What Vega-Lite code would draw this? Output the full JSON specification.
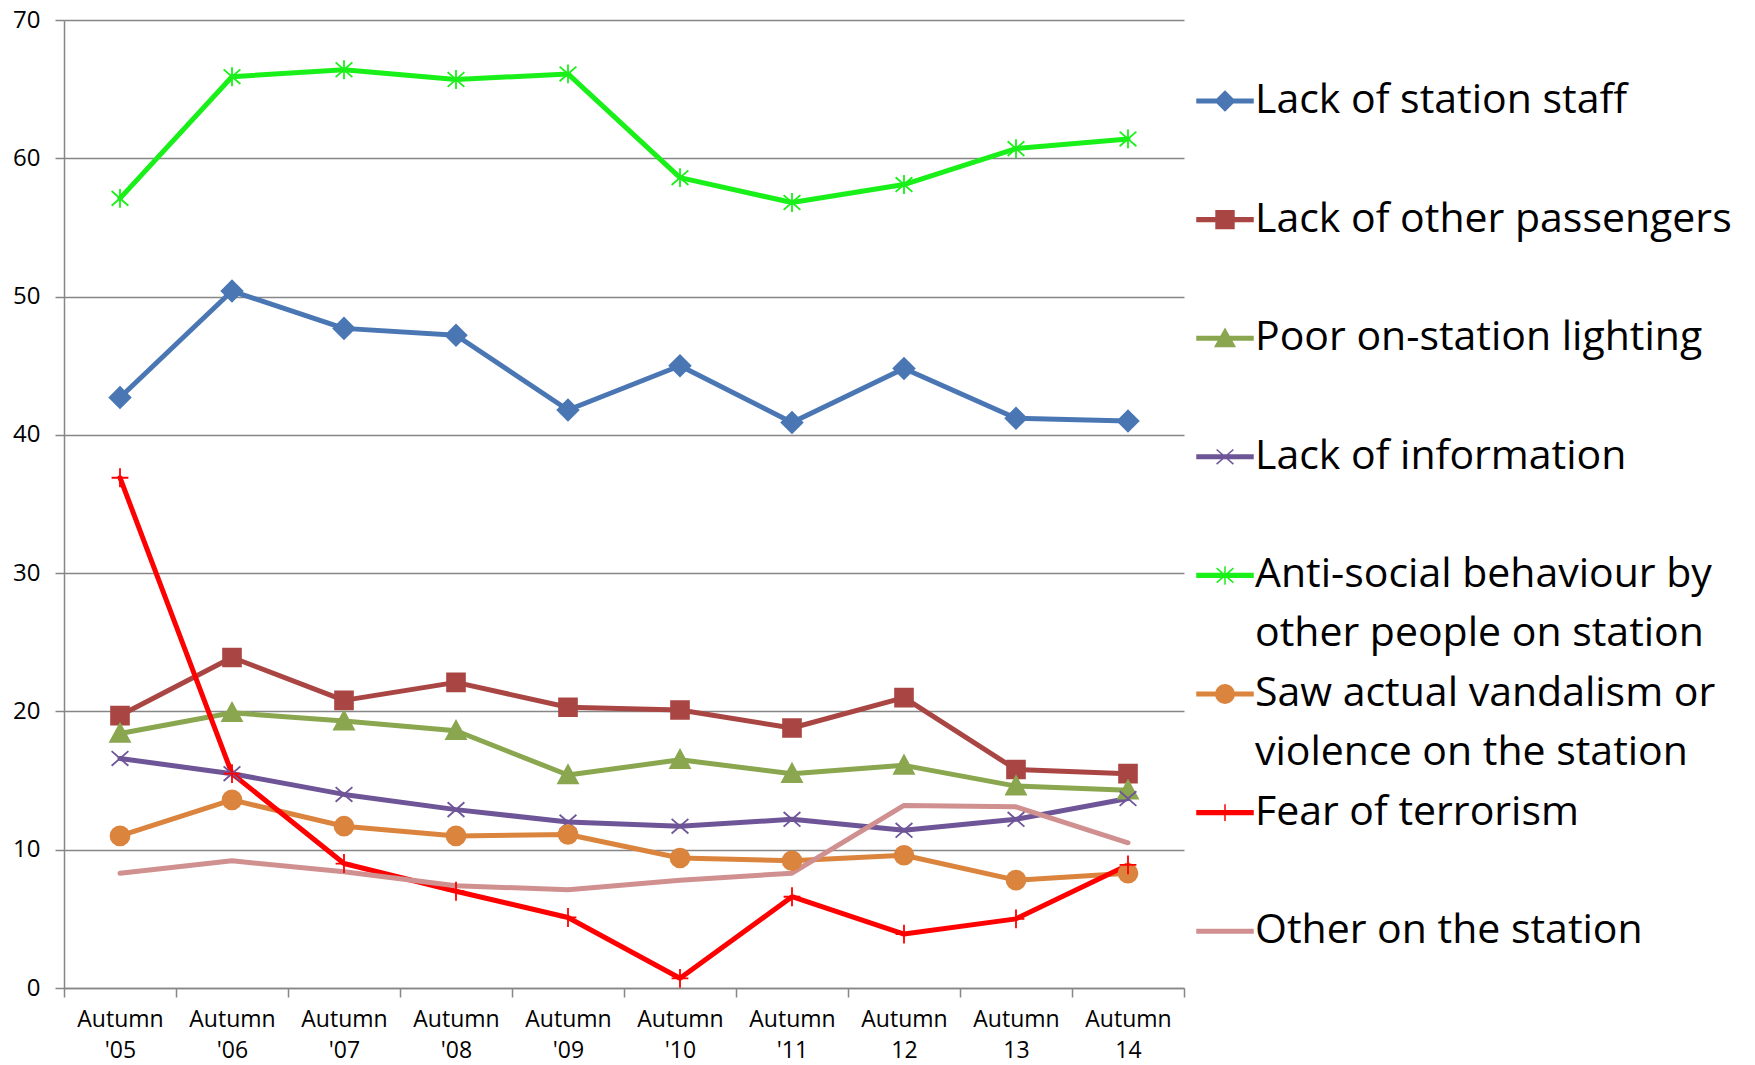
{
  "$schema": "https://vega.github.io/schema/vega-lite/v6.json",
  "width": 1120,
  "height": 968,
  "autosize": {"type": "none"},
  "padding": {"left": 64, "top": 20, "right": 571, "bottom": 77},
  "background": "white",
  "config": {"view": {"stroke": null}, "font": "Open Sans"},
  "data": {
    "values": [
      {"period": "Autumn '05", "series": "Lack of station staff", "value": 42.7},
      {"period": "Autumn '06", "series": "Lack of station staff", "value": 50.4},
      {"period": "Autumn '07", "series": "Lack of station staff", "value": 47.7},
      {"period": "Autumn '08", "series": "Lack of station staff", "value": 47.2},
      {"period": "Autumn '09", "series": "Lack of station staff", "value": 41.8},
      {"period": "Autumn '10", "series": "Lack of station staff", "value": 45.0},
      {"period": "Autumn '11", "series": "Lack of station staff", "value": 40.9},
      {"period": "Autumn 12", "series": "Lack of station staff", "value": 44.8},
      {"period": "Autumn 13", "series": "Lack of station staff", "value": 41.2},
      {"period": "Autumn 14", "series": "Lack of station staff", "value": 41.0},

      {"period": "Autumn '05", "series": "Lack of other passengers", "value": 19.7},
      {"period": "Autumn '06", "series": "Lack of other passengers", "value": 23.9},
      {"period": "Autumn '07", "series": "Lack of other passengers", "value": 20.8},
      {"period": "Autumn '08", "series": "Lack of other passengers", "value": 22.1},
      {"period": "Autumn '09", "series": "Lack of other passengers", "value": 20.3},
      {"period": "Autumn '10", "series": "Lack of other passengers", "value": 20.1},
      {"period": "Autumn '11", "series": "Lack of other passengers", "value": 18.8},
      {"period": "Autumn 12", "series": "Lack of other passengers", "value": 21.0},
      {"period": "Autumn 13", "series": "Lack of other passengers", "value": 15.8},
      {"period": "Autumn 14", "series": "Lack of other passengers", "value": 15.5},

      {"period": "Autumn '05", "series": "Poor on-station lighting", "value": 18.4},
      {"period": "Autumn '06", "series": "Poor on-station lighting", "value": 19.9},
      {"period": "Autumn '07", "series": "Poor on-station lighting", "value": 19.3},
      {"period": "Autumn '08", "series": "Poor on-station lighting", "value": 18.6},
      {"period": "Autumn '09", "series": "Poor on-station lighting", "value": 15.4},
      {"period": "Autumn '10", "series": "Poor on-station lighting", "value": 16.5},
      {"period": "Autumn '11", "series": "Poor on-station lighting", "value": 15.5},
      {"period": "Autumn 12", "series": "Poor on-station lighting", "value": 16.1},
      {"period": "Autumn 13", "series": "Poor on-station lighting", "value": 14.6},
      {"period": "Autumn 14", "series": "Poor on-station lighting", "value": 14.3},

      {"period": "Autumn '05", "series": "Lack of information", "value": 16.6},
      {"period": "Autumn '06", "series": "Lack of information", "value": 15.5},
      {"period": "Autumn '07", "series": "Lack of information", "value": 14.0},
      {"period": "Autumn '08", "series": "Lack of information", "value": 12.9},
      {"period": "Autumn '09", "series": "Lack of information", "value": 12.0},
      {"period": "Autumn '10", "series": "Lack of information", "value": 11.7},
      {"period": "Autumn '11", "series": "Lack of information", "value": 12.2},
      {"period": "Autumn 12", "series": "Lack of information", "value": 11.4},
      {"period": "Autumn 13", "series": "Lack of information", "value": 12.2},
      {"period": "Autumn 14", "series": "Lack of information", "value": 13.7},

      {"period": "Autumn '05", "series": "Anti-social behaviour by other people on station", "value": 57.1},
      {"period": "Autumn '06", "series": "Anti-social behaviour by other people on station", "value": 65.9},
      {"period": "Autumn '07", "series": "Anti-social behaviour by other people on station", "value": 66.4},
      {"period": "Autumn '08", "series": "Anti-social behaviour by other people on station", "value": 65.7},
      {"period": "Autumn '09", "series": "Anti-social behaviour by other people on station", "value": 66.1},
      {"period": "Autumn '10", "series": "Anti-social behaviour by other people on station", "value": 58.6},
      {"period": "Autumn '11", "series": "Anti-social behaviour by other people on station", "value": 56.8},
      {"period": "Autumn 12", "series": "Anti-social behaviour by other people on station", "value": 58.1},
      {"period": "Autumn 13", "series": "Anti-social behaviour by other people on station", "value": 60.7},
      {"period": "Autumn 14", "series": "Anti-social behaviour by other people on station", "value": 61.4},

      {"period": "Autumn '05", "series": "Saw actual vandalism or violence on the station", "value": 11.0},
      {"period": "Autumn '06", "series": "Saw actual vandalism or violence on the station", "value": 13.6},
      {"period": "Autumn '07", "series": "Saw actual vandalism or violence on the station", "value": 11.7},
      {"period": "Autumn '08", "series": "Saw actual vandalism or violence on the station", "value": 11.0},
      {"period": "Autumn '09", "series": "Saw actual vandalism or violence on the station", "value": 11.1},
      {"period": "Autumn '10", "series": "Saw actual vandalism or violence on the station", "value": 9.4},
      {"period": "Autumn '11", "series": "Saw actual vandalism or violence on the station", "value": 9.2},
      {"period": "Autumn 12", "series": "Saw actual vandalism or violence on the station", "value": 9.6},
      {"period": "Autumn 13", "series": "Saw actual vandalism or violence on the station", "value": 7.8},
      {"period": "Autumn 14", "series": "Saw actual vandalism or violence on the station", "value": 8.3},

      {"period": "Autumn '05", "series": "Fear of terrorism", "value": 36.9},
      {"period": "Autumn '06", "series": "Fear of terrorism", "value": 15.5},
      {"period": "Autumn '07", "series": "Fear of terrorism", "value": 9.0},
      {"period": "Autumn '08", "series": "Fear of terrorism", "value": 7.0},
      {"period": "Autumn '09", "series": "Fear of terrorism", "value": 5.1},
      {"period": "Autumn '10", "series": "Fear of terrorism", "value": 0.7},
      {"period": "Autumn '11", "series": "Fear of terrorism", "value": 6.6},
      {"period": "Autumn 12", "series": "Fear of terrorism", "value": 3.9},
      {"period": "Autumn 13", "series": "Fear of terrorism", "value": 5.0},
      {"period": "Autumn 14", "series": "Fear of terrorism", "value": 8.9},

      {"period": "Autumn '05", "series": "Other on the station", "value": 8.3},
      {"period": "Autumn '06", "series": "Other on the station", "value": 9.2},
      {"period": "Autumn '07", "series": "Other on the station", "value": 8.4},
      {"period": "Autumn '08", "series": "Other on the station", "value": 7.4},
      {"period": "Autumn '09", "series": "Other on the station", "value": 7.1},
      {"period": "Autumn '10", "series": "Other on the station", "value": 7.8},
      {"period": "Autumn '11", "series": "Other on the station", "value": 8.3},
      {"period": "Autumn 12", "series": "Other on the station", "value": 13.2},
      {"period": "Autumn 13", "series": "Other on the station", "value": 13.1},
      {"period": "Autumn 14", "series": "Other on the station", "value": 10.5}
    ]
  },
  "encoding": {
    "x": {
      "field": "period",
      "type": "ordinal",
      "sort": null,
      "bandPosition": 0.5,
      "scale": {"type": "band", "paddingInner": 0, "paddingOuter": 0},
      "axis": {
        "title": null,
        "grid": false,
        "tickBand": "extent",
        "tickSize": 9,
        "tickWidth": 1.5,
        "tickColor": "#868686",
        "domainColor": "#868686",
        "domainWidth": 1.5,
        "labelAngle": 0,
        "labelFont": "Open Sans",
        "labelFontSize": 23,
        "labelColor": "#000000",
        "labelLineHeight": 31,
        "labelPadding": 11,
        "labelExpr": "split(datum.label, ' ')"
      }
    },
    "y": {
      "field": "value",
      "type": "quantitative",
      "scale": {"domain": [0, 70], "nice": false},
      "axis": {
        "title": null,
        "values": [0, 10, 20, 30, 40, 50, 60, 70],
        "grid": true,
        "gridColor": "#868686",
        "gridWidth": 1.5,
        "domainColor": "#868686",
        "domainWidth": 1.5,
        "tickColor": "#868686",
        "tickWidth": 1.5,
        "tickSize": 9,
        "labelFont": "Open Sans",
        "labelFontSize": 24,
        "labelColor": "#000000",
        "labelPadding": 15
      }
    }
  },
  "layer": [
    {
      "mark": {"type": "line", "strokeCap": "round", "strokeJoin": "round"},
      "encoding": {
        "color": {
          "field": "series",
          "type": "nominal",
          "scale": {
            "domain": ["Lack of station staff", "Lack of other passengers", "Poor on-station lighting", "Lack of information", "Anti-social behaviour by other people on station", "Saw actual vandalism or violence on the station", "Fear of terrorism", "Other on the station"],
            "range": ["#4A77B4", "#A94643", "#8AA64F", "#6E5597", "#19F019", "#DB843D", "#FF0000", "#D09090"]
          },
          "legend": null
        },
        "strokeWidth": {
          "field": "series",
          "type": "nominal",
          "scale": {
            "domain": ["Lack of station staff", "Lack of other passengers", "Poor on-station lighting", "Lack of information", "Anti-social behaviour by other people on station", "Saw actual vandalism or violence on the station", "Fear of terrorism", "Other on the station"],
            "range": [5, 5, 5, 5, 5, 5, 6.5, 5]
          },
          "legend": null
        }
      }
    },
    {
      "mark": {"type": "point", "filled": true, "size": 440, "strokeWidth": 1.8, "opacity": 1},
      "encoding": {
        "fill": {
          "field": "series",
          "type": "nominal",
          "scale": {
            "domain": ["Lack of station staff", "Lack of other passengers", "Poor on-station lighting", "Lack of information", "Anti-social behaviour by other people on station", "Saw actual vandalism or violence on the station", "Fear of terrorism", "Other on the station"],
            "range": ["#4A77B4", "#A94643", "#8AA64F", "#6E5597", "#19F019", "#DB843D", "#FF0000", "#D09090"]
          },
          "legend": null
        },
        "stroke": {
          "field": "series",
          "type": "nominal",
          "scale": {
            "domain": ["Lack of station staff", "Lack of other passengers", "Poor on-station lighting", "Lack of information", "Anti-social behaviour by other people on station", "Saw actual vandalism or violence on the station", "Fear of terrorism", "Other on the station"],
            "range": ["#4A77B4", "#A94643", "#8AA64F", "#6E5597", "#19F019", "#DB843D", "#FF0000", "#D09090"]
          },
          "legend": null
        },
        "shape": {
          "field": "series",
          "type": "nominal",
          "scale": {
            "domain": ["Lack of station staff", "Lack of other passengers", "Poor on-station lighting", "Lack of information", "Anti-social behaviour by other people on station", "Saw actual vandalism or violence on the station", "Fear of terrorism", "Other on the station"],
            "range": [
              "M-1,0L0,-1L1,0L0,1Z",
              "M-0.85,-0.85H0.85V0.85H-0.85Z",
              "M-0.95,0.8L0,-0.95L0.95,0.8Z",
              "M-0.8,-0.7L0.8,0.7M-0.8,0.7L0.8,-0.7",
              "M-0.8,-0.7L0.8,0.7M-0.8,0.7L0.8,-0.7M0,-0.9V0.9",
              "M-0.9,0A0.9,0.9 0 1,1 0.9,0A0.9,0.9 0 1,1 -0.9,0Z",
              "M-0.8,0H0.8M0,-0.9V0.9",
              "M0,0"
            ]
          },
          "legend": null
        }
      }
    },
    {
      "mark": {"type": "point", "filled": true, "opacity": 0},
      "encoding": {
        "fill": {
          "field": "series",
          "type": "nominal",
          "scale": {
            "domain": ["Lack of station staff", "Lack of other passengers", "Poor on-station lighting", "Lack of information", "Anti-social behaviour by other people on station", "Saw actual vandalism or violence on the station", "Fear of terrorism", "Other on the station"],
            "range": ["#4A77B4", "#A94643", "#8AA64F", "#6E5597", "#19F019", "#DB843D", "#FF0000", "#D09090"]
          },
          "legend": {
            "title": null, "orient": "none", "direction": "vertical", "legendX": 1132, "legendY": 52, "padding": 0,
            "gridAlign": "all", "rowPadding": 10.6, "symbolSize": 3136, "symbolStrokeWidth": 1.5, "labelOffset": 1,
            "labelFont": "Open Sans", "labelFontSize": 41, "labelColor": "#000000", "labelLimit": 700, "labelBaseline": "middle",
            "labelExpr": "datum.label == 'Anti-social behaviour by other people on station' ? ['Anti-social behaviour by', 'other people on station'] : datum.label == 'Saw actual vandalism or violence on the station' ? ['Saw actual vandalism or', 'violence on the station'] : datum.label",
            "encode": {"labels": {"update": {"lineHeight": {"value": 59}}}}
          }
        },
        "stroke": {
          "field": "series",
          "type": "nominal",
          "scale": {
            "domain": ["Lack of station staff", "Lack of other passengers", "Poor on-station lighting", "Lack of information", "Anti-social behaviour by other people on station", "Saw actual vandalism or violence on the station", "Fear of terrorism", "Other on the station"],
            "range": ["#4A77B4", "#A94643", "#8AA64F", "#6E5597", "#19F019", "#DB843D", "#FF0000", "#D09090"]
          },
          "legend": {
            "title": null, "orient": "none", "direction": "vertical", "legendX": 1132, "legendY": 52, "padding": 0,
            "gridAlign": "all", "rowPadding": 10.6, "symbolSize": 3136, "symbolStrokeWidth": 1.5, "labelOffset": 1,
            "labelFont": "Open Sans", "labelFontSize": 41, "labelColor": "#000000", "labelLimit": 700, "labelBaseline": "middle",
            "labelExpr": "datum.label == 'Anti-social behaviour by other people on station' ? ['Anti-social behaviour by', 'other people on station'] : datum.label == 'Saw actual vandalism or violence on the station' ? ['Saw actual vandalism or', 'violence on the station'] : datum.label",
            "encode": {"labels": {"update": {"lineHeight": {"value": 59}}}}
          }
        },
        "shape": {
          "field": "series",
          "type": "nominal",
          "scale": {
            "domain": ["Lack of station staff", "Lack of other passengers", "Poor on-station lighting", "Lack of information", "Anti-social behaviour by other people on station", "Saw actual vandalism or violence on the station", "Fear of terrorism", "Other on the station"],
            "range": [
              "M-1,-0.065H1V0.065H-1ZM-0.35,0L0,-0.35L0.35,0L0,0.35Z",
              "M-1,-0.065H1V0.065H-1ZM-0.32,-0.32H0.32V0.32H-0.32Z",
              "M-1,-0.065H1V0.065H-1ZM-0.35,0.3L0,-0.33L0.35,0.3Z",
              "M-1,-0.065H1V0.065H-1ZM-0.3,-0.26L0.3,0.26M-0.3,0.26L0.3,-0.26",
              "M-1,-0.065H1V0.065H-1ZM-0.3,-0.26L0.3,0.26M-0.3,0.26L0.3,-0.26M0,-0.33V0.33",
              "M-1,-0.065H1V0.065H-1ZM-0.33,0A0.33,0.33 0 1,1 0.33,0A0.33,0.33 0 1,1 -0.33,0Z",
              "M-1,-0.065H1V0.065H-1ZM0,-0.3V0.3",
              "M-1,-0.065H1V0.065H-1Z"
            ]
          },
          "legend": {
            "title": null, "orient": "none", "direction": "vertical", "legendX": 1132, "legendY": 52, "padding": 0,
            "gridAlign": "all", "rowPadding": 10.6, "symbolSize": 3136, "symbolStrokeWidth": 1.5, "labelOffset": 1,
            "labelFont": "Open Sans", "labelFontSize": 41, "labelColor": "#000000", "labelLimit": 700, "labelBaseline": "middle",
            "labelExpr": "datum.label == 'Anti-social behaviour by other people on station' ? ['Anti-social behaviour by', 'other people on station'] : datum.label == 'Saw actual vandalism or violence on the station' ? ['Saw actual vandalism or', 'violence on the station'] : datum.label",
            "encode": {"labels": {"update": {"lineHeight": {"value": 59}}}}
          }
        }
      }
    }
  ],
  "resolve": {"scale": {"fill": "independent", "stroke": "independent", "shape": "independent"}}
}
